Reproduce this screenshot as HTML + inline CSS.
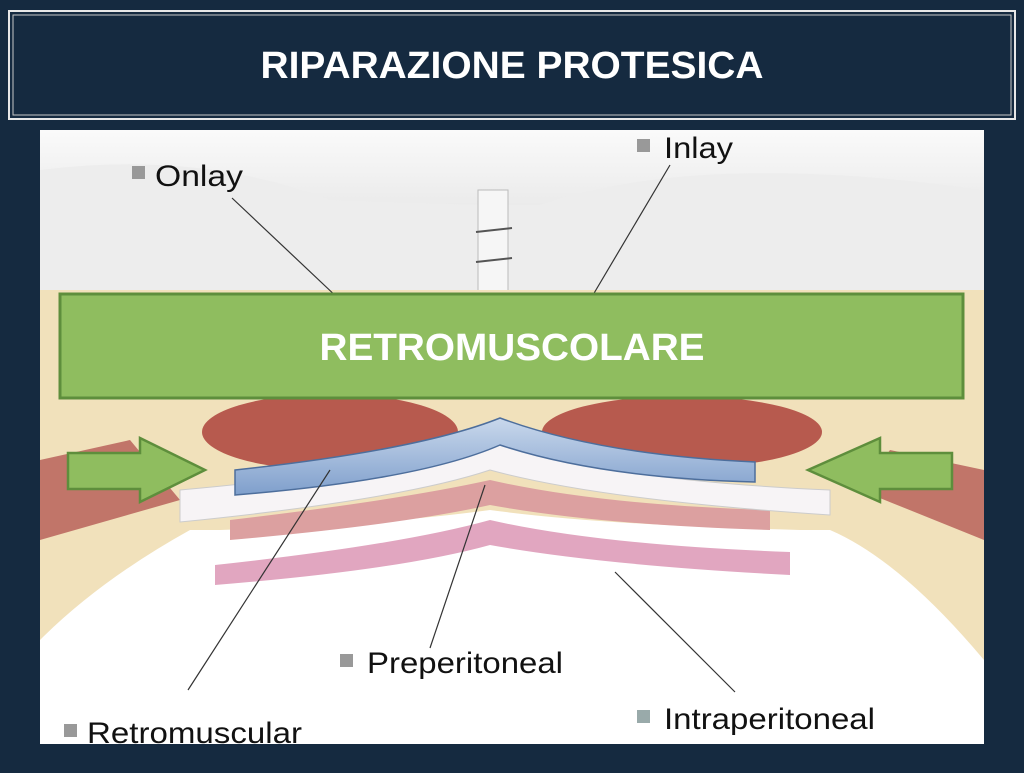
<!DOCTYPE html>
<html><head><style>
body{margin:0;width:1024px;height:768px;background:#152a40;overflow:hidden;font-family:"Liberation Sans",sans-serif}
</style></head><body>
<svg width="1024" height="768" viewBox="0 0 1024 768" xmlns="http://www.w3.org/2000/svg">
<defs>
<linearGradient id="sky" x1="0" y1="0" x2="0" y2="1"><stop offset="0" stop-color="#fafafa"/><stop offset="1" stop-color="#d8d8d8"/></linearGradient>
<linearGradient id="blue" x1="0" y1="0" x2="0" y2="1"><stop offset="0" stop-color="#c9d8ec"/><stop offset="1" stop-color="#7f9fcc"/></linearGradient>
</defs>
<rect x="9" y="11" width="1006" height="108" fill="none" stroke="#e8e8e8" stroke-width="2"/>
<rect x="13" y="15" width="998" height="100" fill="none" stroke="#c8c8c8" stroke-width="1"/>
<text x="512" y="78" text-anchor="middle" font-size="38" font-weight="bold" fill="#fff" textLength="503" lengthAdjust="spacingAndGlyphs">RIPARAZIONE PROTESICA</text>
<rect x="40" y="130" width="944" height="614" fill="#fff"/>
<rect x="40" y="130" width="944" height="170" fill="url(#sky)"/>
<path d="M40 170 Q200 150 330 200 L480 205 L540 205 Q700 150 984 190 L984 300 L40 300Z" fill="#ededed"/>
<rect x="478" y="190" width="30" height="110" fill="#f6f6f6" stroke="#bbb"/>
<path d="M476 232 L512 228 M476 262 L512 258" stroke="#555" stroke-width="2"/>
<path d="M40 290 L984 290 L984 660 Q900 560 830 530 L800 530 Q600 525 490 510 Q380 525 220 530 L190 530 Q100 580 40 640Z" fill="#f1e1bb"/>
<path d="M40 460 L130 440 L180 500 L40 540Z" fill="#b9615a" opacity="0.85"/>
<path d="M984 470 L890 450 L860 490 L984 540Z" fill="#b9615a" opacity="0.85"/>
<ellipse cx="330" cy="432" rx="128" ry="38" fill="#b75a4e"/>
<ellipse cx="682" cy="432" rx="140" ry="36" fill="#b75a4e"/>
<path d="M215 565 Q400 545 490 520 Q600 545 790 552 L790 575 Q600 565 490 545 Q400 570 215 585Z" fill="#e1a6c0"/>
<path d="M230 520 Q400 500 490 480 Q600 505 770 510 L770 530 Q600 525 490 505 Q400 525 230 540Z" fill="#dca0a0"/>
<path d="M180 490 Q400 470 490 440 Q600 480 830 490 L830 515 Q600 500 490 470 Q400 500 180 522Z" fill="#f7f4f6" stroke="#ccc"/>
<path d="M235 470 Q420 450 500 418 Q600 455 755 462 L755 482 Q600 478 500 445 Q420 480 235 495Z" fill="url(#blue)" stroke="#4d6e9c" stroke-width="1.5"/>
<g stroke="#333" stroke-width="1.2" fill="none">
<line x1="232" y1="198" x2="340" y2="300"/>
<line x1="670" y1="165" x2="590" y2="300"/>
<line x1="330" y1="470" x2="188" y2="690"/>
<line x1="485" y1="485" x2="430" y2="648"/>
<line x1="615" y1="572" x2="735" y2="692"/>
</g>
<g font-size="30" fill="#111" lengthAdjust="spacingAndGlyphs">
<rect x="132" y="166" width="13" height="13" fill="#999"/><text x="155" y="186" textLength="88" lengthAdjust="spacingAndGlyphs">Onlay</text>
<rect x="637" y="139" width="13" height="13" fill="#999"/><text x="664" y="158" textLength="69" lengthAdjust="spacingAndGlyphs">Inlay</text>
<rect x="340" y="654" width="13" height="13" fill="#999"/><text x="367" y="673" textLength="196" lengthAdjust="spacingAndGlyphs">Preperitoneal</text>
<rect x="637" y="710" width="13" height="13" fill="#9aa"/><text x="664" y="729" textLength="211" lengthAdjust="spacingAndGlyphs">Intraperitoneal</text>
<rect x="64" y="724" width="13" height="13" fill="#999"/><text x="87" y="743" textLength="215" lengthAdjust="spacingAndGlyphs">Retromuscular</text>
</g>
<rect x="60" y="294" width="903" height="104" fill="#8fbd5f" stroke="#5e8e3c" stroke-width="3"/>
<text x="512" y="360" text-anchor="middle" font-size="38" font-weight="bold" fill="#fff" textLength="385" lengthAdjust="spacingAndGlyphs">RETROMUSCOLARE</text>
<path d="M68 453 L140 453 L140 438 L205 470 L140 502 L140 489 L68 489Z" fill="#8fbd5f" stroke="#5e8e3c" stroke-width="2.5"/>
<path d="M952 453 L880 453 L880 438 L808 470 L880 502 L880 489 L952 489Z" fill="#8fbd5f" stroke="#5e8e3c" stroke-width="2.5"/>
</svg>
</body></html>
